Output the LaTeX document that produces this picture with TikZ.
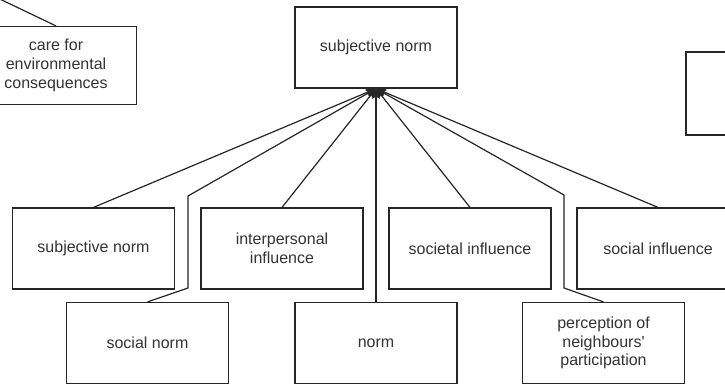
\documentclass[tikz,border=0pt]{standalone}
\usepackage{fontspec}
\setmainfont{Liberation Sans}[Ligatures=TeXOff]
\usetikzlibrary{arrows.meta}
\definecolor{ink}{RGB}{38,38,38}
\definecolor{txt}{RGB}{51,51,51}
\tikzset{
  concept/.style={draw=ink, line width=1.2pt, fill=white, minimum width=162pt,
    minimum height=81pt, inner sep=2pt, align=center, text=txt,
    font=\fontsize{16}{18.7}\selectfont},
  link/.style={draw=ink, line width=1.2pt,
    -{Stealth[length=10pt,width=8pt,inset=2pt]}},
  plainlink/.style={draw=ink, line width=1.2pt}
}
\begin{document}
\begin{tikzpicture}[x=1pt,y=-1pt]
\path[use as bounding box, clip] (0,0) rectangle (725,384);
\fill[white] (0,0) rectangle (725,384);

% target construct
\node[concept] (top) at (376,47.5) {subjective norm};

% neighbouring constructs, partly outside the frame
\node[concept, minimum width=161pt, minimum height=78pt] (care) at (56,65.5)
  {care for\\environmental\\consequences};
\node[concept, minimum height=83pt] (right) at (767,93.5) {};
\coordinate (careout) at (-40,-20);

% first row of source constructs
\node[concept] (sn1) at (93.5,248.5) {subjective norm};
\node[concept] (ip)  at (282,248.5)  {interpersonal\\influence};
\node[concept] (soc) at (470,248.5)  {societal influence};
\node[concept] (si)  at (658,248.5)  {social influence};

% second row of source constructs
\node[concept] (snorm) at (147.5,343) {social norm};
\node[concept] (norm)  at (376,343)   {norm};
\node[concept] (perc)  at (603.5,343) {perception of\\neighbours'\\participation};

% connectors into the target
\draw[plainlink] (care.north) -- (careout);
\draw[link] (sn1.north) -- (top.south);
\draw[link] (ip.north) -- (top.south);
\draw[link] (soc.north) -- (top.south);
\draw[link] (si.north) -- (top.south);
\draw[link] (norm.north) -- (top.south);
\draw[link] (snorm.north) -- (188,288) -- (188,196) -- (top.south);
\draw[link] (perc.north) -- (564,288) -- (564,195) -- (top.south);
\end{tikzpicture}
\end{document}
